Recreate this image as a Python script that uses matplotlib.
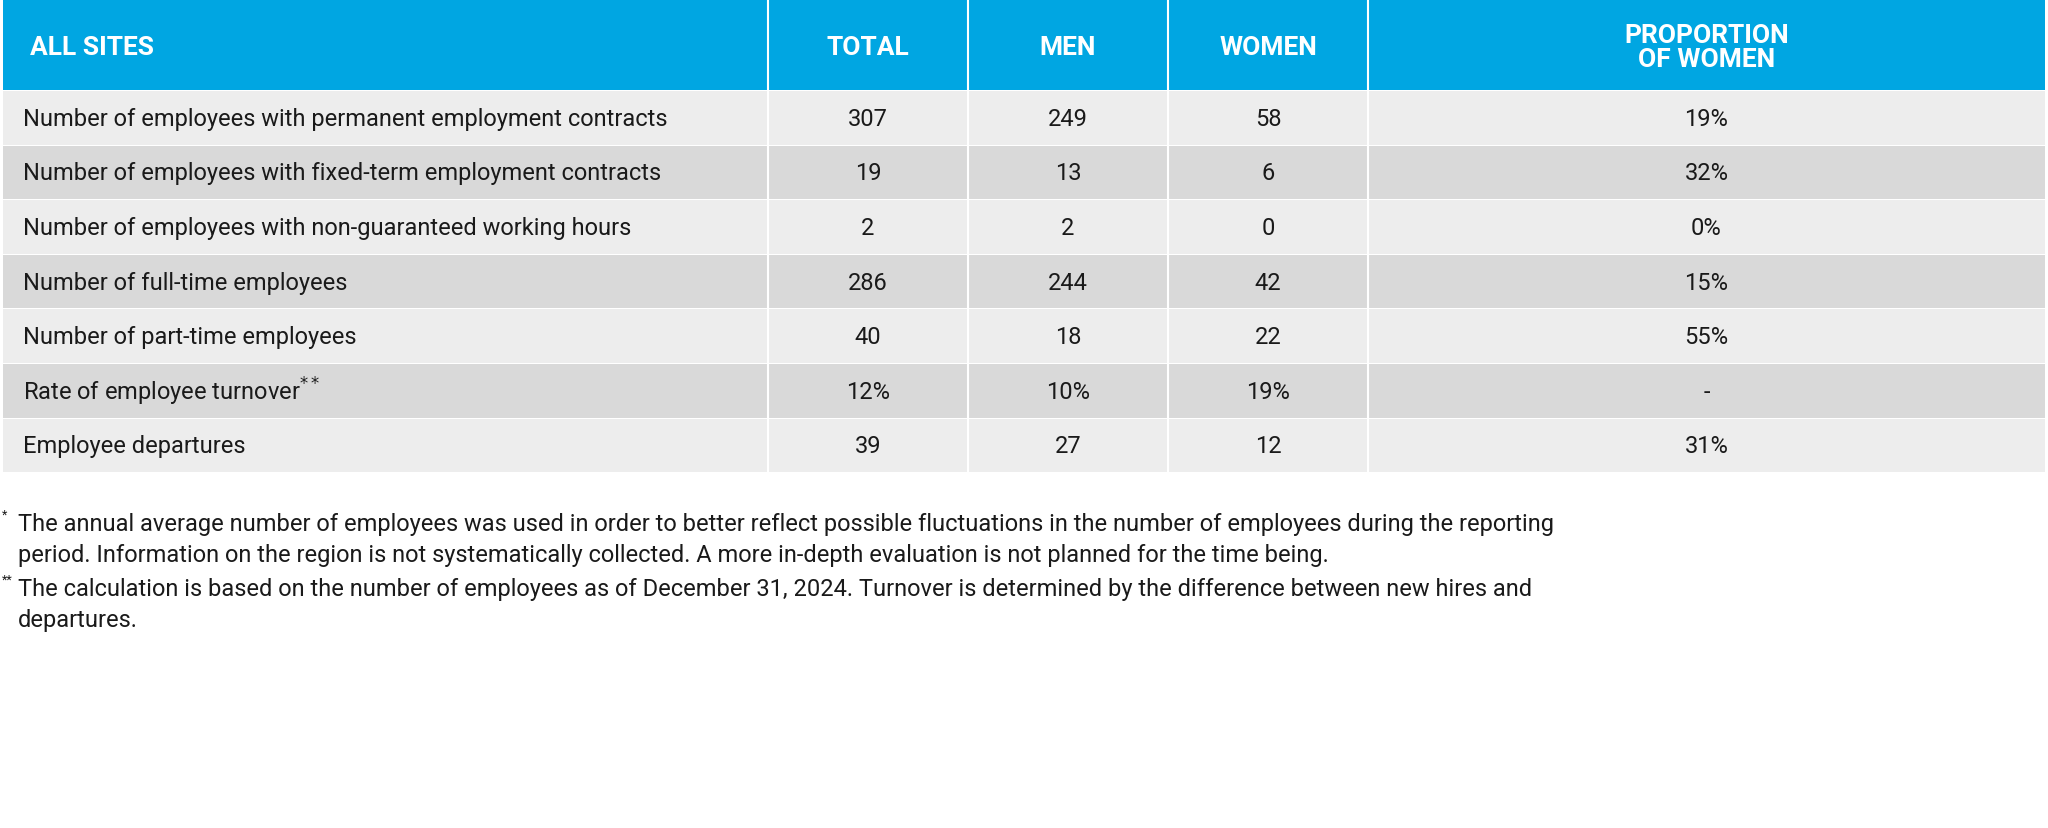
import matplotlib.pyplot as plt
from matplotlib.patches import Rectangle

headers = ["ALL SITES", "TOTAL", "MEN", "WOMEN", "PROPORTION\nOF WOMEN"]
row_labels = [
    "Number of employees with permanent employment contracts",
    "Number of employees with fixed-term employment contracts",
    "Number of employees with non-guaranteed working hours",
    "Number of full-time employees",
    "Number of part-time employees",
    "Rate of employee turnover$^{**}$",
    "Employee departures",
]
total = ["307", "19", "2", "286", "40", "12%", "39"]
men = ["249", "13", "2", "244", "18", "10%", "27"]
women = ["58", "6", "0", "42", "22", "19%", "12"]
prop_women = ["19%", "32%", "0%", "15%", "55%", "-", "31%"]

footnotes = [
    ("*", "The annual average number of employees was used in order to better reflect possible fluctuations in the number of employees during the reporting\nperiod. Information on the region is not systematically collected. A more in-depth evaluation is not planned for the time being."),
    ("**", "The calculation is based on the number of employees as of December 31, 2024. Turnover is determined by the difference between new hires and\ndepartures."),
]

W, H = 2048, 829
fig = plt.figure(figsize=(W / 100, H / 100), dpi=100)
ax = fig.add_axes([0, 0, 1, 1])
ax.set_xlim(0, W)
ax.set_ylim(H, 0)
ax.axis("off")

col_edges = [3, 768, 968, 1168, 1368, 2045]
head_top, head_bot = 0, 91
row_h = 54.6
blue = "#00A6E2"
light, dark = "#EDEDED", "#D9D9D9"

ax.add_patch(Rectangle((col_edges[0], head_top), col_edges[-1] - col_edges[0], head_bot - head_top, color=blue, lw=0))
for j, h in enumerate(headers):
    if j == 0:
        ax.text(col_edges[0] + 27, head_bot / 2 + 2, h, color="white", fontsize=19, fontweight="bold", va="center", ha="left", family="Roboto")
    else:
        xc = (col_edges[j] + col_edges[j + 1]) / 2
        ax.text(xc, head_bot / 2 + 2, h, color="white", fontsize=19, fontweight="bold", va="center", ha="center", family="Roboto", linespacing=1.0)

cols = [total, men, women, prop_women]
for i, lab in enumerate(row_labels):
    y0 = head_bot + 1 + i * row_h
    ax.add_patch(Rectangle((col_edges[0], y0), col_edges[-1] - col_edges[0], row_h - 1, color=light if i % 2 == 0 else dark, lw=0))
    yc = y0 + row_h / 2
    ax.text(col_edges[0] + 20, yc, lab, fontsize=17, va="center", ha="left", color="#1a1a1a", family="Roboto")
    for j, c in enumerate(cols):
        xc = (col_edges[j + 1] + col_edges[j + 2]) / 2
        ax.text(xc, yc, c[i], fontsize=17, va="center", ha="center", color="#1a1a1a", family="Roboto")

for x in col_edges[1:-1]:
    ax.plot([x, x], [head_top, head_bot + 7 * row_h], color="white", lw=1.5)

fy = 527
for mark, txt in footnotes:
    ax.text(2, fy - 12, mark, fontsize=9, va="center", ha="left", color="#1a1a1a", family="Roboto")
    ax.text(18, fy - 14, txt, fontsize=17, va="top", ha="left", color="#1a1a1a", family="Roboto", linespacing=1.45)
    fy += 65

fig.savefig("out.png", dpi=100)
